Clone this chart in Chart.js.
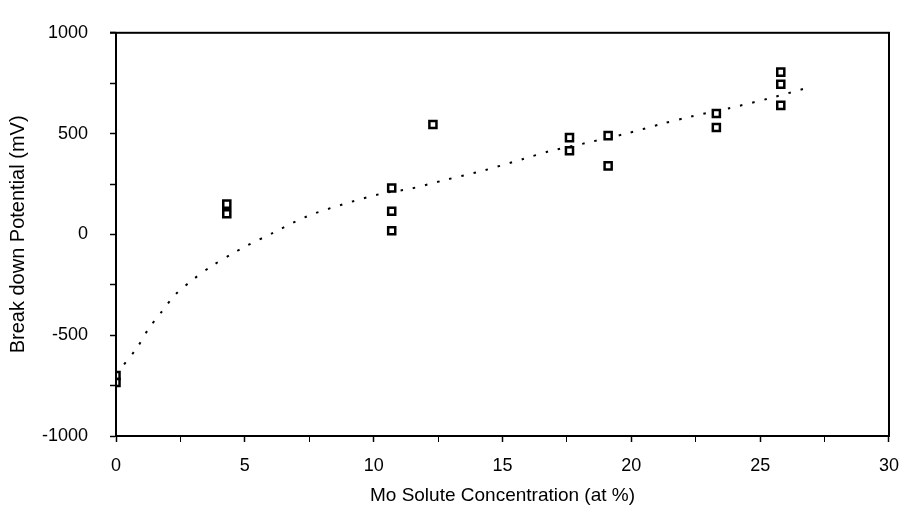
<!DOCTYPE html>
<html>
<head>
<meta charset="utf-8">
<script src="https://cdn.jsdelivr.net/npm/chart.js@4.4.1/dist/chart.umd.min.js"></script>
<style>
  html, body { margin: 0; padding: 0; background: #fff; }
  #wrap { width: 912px; height: 509px; }
</style>
</head>
<body>
<div id="wrap"><canvas id="grafico" width="912" height="509"></canvas></div>
<script>
// measured points: Mo content (at %) vs breakdown potential (mV)
const moConc = [0, 0, 4.3, 4.3, 10.7, 10.7, 10.7, 12.3, 17.6, 17.6, 19.1, 19.1, 23.3, 23.3, 25.8, 25.8, 25.8];
const potencial = [-700, -735, 150, 102, 230, 115, 18, 545, 480, 415, 490, 340, 600, 530, 805, 745, 640];

// dotted fitted curve
const ajusteX = [0, 0.2, 0.8, 1.25, 1.8, 2.3, 3, 3.7, 4.5, 5, 6.1, 7.4, 8.8, 10.3, 11.4, 12.8, 14.3, 15.8, 16.8, 18.3, 19.8, 21.2, 22.3, 23.8, 25.3, 26.8];
const ajusteY = [-690, -662, -565, -471, -379, -299, -223, -158, -97, -61, 8, 89, 149, 202, 226, 271, 318, 374, 412, 455, 500, 549, 584, 626, 673, 726];

const xTicks = [0, 5, 10, 15, 20, 25, 30];
const yTicks = [-1000, -500, 0, 500, 1000];

const fonte = "'Liberation Sans', Arial, Helvetica, sans-serif";

const moldura = {
  id: "moldura",
  afterDraw(chart) {
    const { ctx, chartArea: a } = chart;
    ctx.save();
    ctx.strokeStyle = "#000";
    ctx.lineWidth = 2;
    ctx.strokeRect(a.left, a.top, a.right - a.left, a.bottom - a.top);
    // the top line runs a little past the left axis, as in the print
    ctx.beginPath();
    ctx.moveTo(a.left - 6, a.top);
    ctx.lineTo(a.left, a.top);
    ctx.stroke();
    ctx.restore();
  }
};

function gerarGrafico() {
  const ctx = document.getElementById("grafico").getContext("2d");
  new Chart(ctx, {
    type: "scatter",
    data: {
      datasets: [
        {
          label: "medido",
          data: moConc.map((x, i) => ({ x: x, y: potencial[i] })),
          pointStyle: "rect",
          pointRadius: 5,
          pointBorderWidth: 2.5,
          borderColor: "#000",
          backgroundColor: "#fff",
          showLine: false,
          order: 0
        },
        {
          label: "ajuste",
          data: ajusteX.map((x, i) => ({ x: x, y: ajusteY[i] })),
          showLine: true,
          pointRadius: 0,
          borderColor: "#000",
          borderWidth: 2,
          borderDash: [2.5, 10],
          tension: 0.3,
          order: 1
        }
      ]
    },
    options: {
      responsive: false,
      animation: false,
      layout: { padding: { top: 23, right: 22, left: 0, bottom: 0 } },
      plugins: { legend: { display: false }, tooltip: { enabled: false } },
      scales: {
        x: {
          min: 0, max: 30,
          afterFit: s => { s.height = 73; },
          ticks: {
            stepSize: 2.5,
            autoSkip: false,
            maxRotation: 0,
            color: "#000",
            padding: 13,
            font: { family: fonte, size: 18 },
            callback: v => xTicks.includes(v) ? String(v) : ""
          },
          grid: {
            drawOnChartArea: false,
            tickLength: 6,
            tickColor: "#000",
            tickWidth: c => xTicks.includes(c.tick && c.tick.value) ? 1.5 : 1
          },
          border: { color: "#000", width: 2 },
          title: {
            display: true,
            text: "Mo Solute Concentration (at %)",
            color: "#000",
            font: { family: fonte, size: 19 },
            padding: { top: 0, bottom: 2 }
          }
        },
        y: {
          min: -1000, max: 1000,
          afterFit: s => { s.width = 116; },
          ticks: {
            stepSize: 250,
            autoSkip: false,
            color: "#000",
            padding: 22,
            font: { family: fonte, size: 18 },
            callback: v => yTicks.includes(v) ? String(v) : ""
          },
          grid: {
            drawOnChartArea: false,
            tickLength: 6,
            tickColor: "#000",
            tickWidth: 1.5
          },
          border: { color: "#000", width: 2 },
          title: {
            display: true,
            text: "Break down Potential (mV)",
            color: "#000",
            font: { family: fonte, size: 20 },
            padding: { top: 6, bottom: 0 }
          }
        }
      }
    },
    plugins: [moldura]
  });
}

window.onload = gerarGrafico;
</script>
</body>
</html>
